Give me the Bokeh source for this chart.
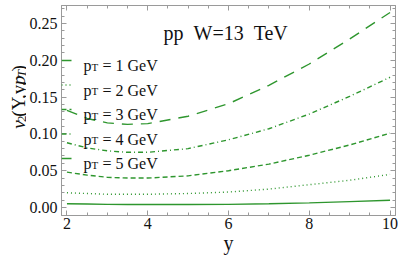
import math
from bokeh.plotting import figure
from bokeh.layouts import row
from bokeh.models import Range1d, FixedTicker, PrintfTickFormatter, LinearAxis, Label, Arrow, CustomJSTickFormatter
from bokeh.core.properties import value
from bokeh.embed import file_html
from bokeh.resources import INLINE

# ---- data ----
rapidity = [2, 2.5, 3, 3.5, 4, 5, 6, 7, 8, 9, 10]
v2_pt1 = [0.005, 0.0047, 0.0043, 0.0041, 0.004, 0.004, 0.0042, 0.005, 0.0063, 0.008, 0.0098]
v2_pt2 = [0.020, 0.019, 0.018, 0.018, 0.018, 0.019, 0.021, 0.025, 0.031, 0.037, 0.045]
v2_pt3 = [0.048, 0.044, 0.041, 0.040, 0.040, 0.043, 0.050, 0.059, 0.071, 0.085, 0.101]
v2_pt4 = [0.088, 0.081, 0.077, 0.075, 0.075, 0.080, 0.092, 0.107, 0.127, 0.151, 0.177]
v2_pt5 = [0.132, 0.121, 0.115, 0.113, 0.114, 0.124, 0.141, 0.166, 0.195, 0.229, 0.265]
pt_values = [1, 2, 3, 4, 5]
x_major = [2, 4, 6, 8, 10]
x_minor = [2.5, 3, 3.5, 4.5, 5, 5.5, 6.5, 7, 7.5, 8.5, 9, 9.5]
y_major = [0.00, 0.05, 0.10, 0.15, 0.20, 0.25]
y_minor = [0.01, 0.02, 0.03, 0.04, 0.06, 0.07, 0.08, 0.09, 0.11, 0.12, 0.13, 0.14,
           0.16, 0.17, 0.18, 0.19, 0.21, 0.22, 0.23, 0.24, 0.26, 0.27]
title_text = "pp\u00a0\u00a0W=13\u00a0\u00a0TeV"
x_label = "y"
# y-axis label pieces: (text, font px, style, subscript shift, advance in em)
y_label_pieces = [("v", 19, "italic", 0, 0.444), ("2", 13, "normal", 3, 0.5),
                  ("(Y,y,", 19, "normal", 0, 2.055), ("p", 19, "italic", 0, 0.5),
                  ("T", 13, "italic", 3, 0.556), (")", 19, "normal", 0, 0.333)]

# ---- styles ----
GREEN = "#2e962e"
FRAME = "#9a9a9a"
FONT = "Liberation Serif"
dashes = ["solid", "1 3", "5 3", "5 3 1 3", "11 8"]
series = [v2_pt1, v2_pt2, v2_pt3, v2_pt4, v2_pt5]

LW = 26
p = figure(width=398 - LW, height=259, x_range=Range1d(1.865, 10.135), y_range=Range1d(-0.01087, 0.2745),
           output_backend="svg", toolbar_location=None,
           min_border_left=58 - LW, min_border_right=3, min_border_top=5, min_border_bottom=44)
p.grid.visible = False
p.outline_line_color = FRAME

def style_axis(ax, ticker, labels=True):
    ax.ticker = ticker
    ax.axis_line_color = FRAME
    ax.major_tick_line_color = FRAME
    ax.minor_tick_line_color = FRAME
    ax.major_tick_in = 5
    ax.major_tick_out = 0
    ax.minor_tick_in = 3
    ax.minor_tick_out = 0
    if labels:
        ax.major_label_text_font = FONT
        ax.major_label_text_font_size = "16px"
        ax.major_label_text_color = "#111111"
    else:
        ax.formatter = CustomJSTickFormatter(code="return ''")
        ax.major_label_standoff = 0

xt = FixedTicker(ticks=x_major, minor_ticks=x_minor)
yt = FixedTicker(ticks=y_major, minor_ticks=y_minor)
style_axis(p.xaxis[0], xt)
style_axis(p.yaxis[0], yt)
p.xaxis[0].major_label_standoff = 2
p.yaxis[0].major_label_standoff = 4
p.yaxis[0].formatter = PrintfTickFormatter(format="%.2f")
p.xaxis[0].axis_label = x_label
p.xaxis[0].axis_label_text_font = FONT
p.xaxis[0].axis_label_text_font_size = "20px"
p.xaxis[0].axis_label_text_font_style = "normal"
p.xaxis[0].axis_label_text_color = "#111111"
p.xaxis[0].axis_label_standoff = 0

top = LinearAxis()
style_axis(top, FixedTicker(ticks=x_major, minor_ticks=x_minor), labels=False)
p.add_layout(top, "above")
right = LinearAxis()
style_axis(right, FixedTicker(ticks=y_major, minor_ticks=y_minor), labels=False)
p.add_layout(right, "right")

for vals, dash in zip(series, dashes):
    p.line(rapidity, vals, line_color=GREEN, line_width=1.4, line_dash=dash)

# ---- legend (manual, with subscript T); screen units relative to the frame ----
for i, (pt, dash) in enumerate(zip(pt_values, dashes)):
    base = 65 + 24.5 * i          # page-y of text baseline
    sy = 215 - base
    p.add_layout(Arrow(end=None, x_start=0, y_start=sy + 5, x_end=10, y_end=sy + 5,
                       start_units="screen", end_units="screen",
                       line_color=GREEN, line_width=1.4, line_dash=dash))
    p.add_layout(Label(x=22, y=sy, x_units="screen", y_units="screen", text="p",
                       text_font=FONT, text_font_size="16px", text_baseline="alphabetic",
                       text_color="#111111"))
    p.add_layout(Label(x=30, y=sy - 1, x_units="screen", y_units="screen", text="T",
                       text_font=FONT, text_font_size="11px", text_baseline="alphabetic",
                       text_color="#111111"))
    p.add_layout(Label(x=41, y=sy, x_units="screen", y_units="screen", text=f"= {pt} GeV",
                       text_font=FONT, text_font_size="16px", text_baseline="alphabetic",
                       text_color="#111111"))

# ---- title ----
p.add_layout(Label(x=102, y=215 - 32, x_units="screen", y_units="screen", text=title_text,
                   text_font=FONT, text_font_size="20px", text_baseline="alphabetic",
                   text_color="#111111"))

# ---- y label in a narrow side figure (pixel coordinates) ----
lf = figure(width=LW, height=259, x_range=Range1d(0, LW), y_range=Range1d(0, 259),
            output_backend="svg", toolbar_location=None, min_border=0,
            x_axis_type=None, y_axis_type=None)
lf.outline_line_color = None
page_y = 152
bx = 18
for txt, fs, style, off, adv in y_label_pieces:
    lf.text(x=[bx + off], y=[259 - page_y], text=[txt], angle=math.pi / 2,
            text_font=value(FONT), text_font_size=value(f"{fs}px"), text_font_style=style,
            text_baseline="alphabetic", text_align="left", text_color="#111111")
    page_y -= adv * fs

layout = row(lf, p, spacing=0)
open("out.html", "w").write(file_html(layout, INLINE))
